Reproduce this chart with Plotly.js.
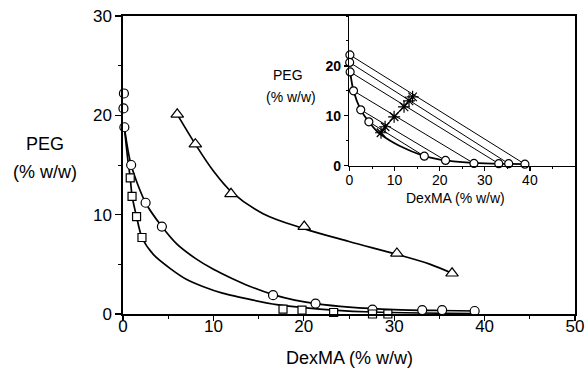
<!DOCTYPE html>
<html>
<head>
<meta charset="utf-8">
<script src="https://cdn.plot.ly/plotly-3.0.1.min.js"></script>
<style>html,body{margin:0;padding:0;background:#fff;}#chart{width:586px;height:369px;}</style>
</head>
<body>
<div id="chart"></div>
<script>
// ---- Data ----
// Binodal (circles): DexMA % w/w, PEG % w/w
const circleX = [0.1, 0.05, 0.15, 0.9, 2.5, 4.3, 16.6, 21.3, 27.6, 33.1, 35.3, 38.9];
const circleY = [22.2, 20.7, 18.8, 15.0, 11.2, 8.8, 1.9, 1.05, 0.45, 0.4, 0.4, 0.3];
// Binodal (squares)
const squareX = [0.8, 1.0, 1.5, 2.1, 17.7, 19.8, 23.3, 27.6, 29.3];
const squareY = [13.7, 11.85, 9.8, 7.7, 0.5, 0.4, 0.15, 0.0, 0.0];
// Binodal (triangles)
const triX = [6.0, 8.0, 11.95, 20.05, 30.3, 36.4];
const triY = [20.1, 17.1, 12.1, 8.8, 6.1, 4.1];
// Fitted curves
const circleFitX = [0.15, 0.9, 2.5, 4.3, 6, 8, 10, 12, 14, 16.6, 19, 21.3, 25, 30, 35, 39];
const circleFitY = [18.8, 15.0, 11.2, 8.8, 7.0, 5.6, 4.5, 3.6, 2.8, 1.95, 1.4, 1.05, 0.7, 0.45, 0.35, 0.3];
const squareFitX = [0.15, 0.5, 0.8, 1.0, 1.5, 2.1, 3.35, 5.2, 7, 8.9, 11, 14.4, 17, 20, 23.3, 27.6, 33, 39];
const squareFitY = [18.8, 15.8, 13.7, 11.9, 9.8, 7.7, 6.0, 4.6, 3.5, 2.75, 2.1, 1.4, 0.95, 0.65, 0.4, 0.2, 0.1, 0.05];
const triFitX = [6.0, 8.0, 10.0, 12.0, 15.5, 20.0, 25.0, 30.3, 34.0, 36.4];
const triFitY = [20.1, 17.1, 14.4, 12.3, 10.1, 8.6, 7.3, 6.0, 5.0, 4.1];
// Inset: tie lines join circle i (PEG-rich) with circle j (DexMA-rich)
const tieTop = [0, 1, 2, 3, 4, 5];
const tieBottom = [11, 10, 9, 8, 7, 6];
// Inset: overall compositions (asterisks)
const mixX = [14.0, 13.2, 12.1, 9.9, 7.9, 7.0];
const mixY = [13.8, 13.0, 11.8, 9.8, 7.8, 6.6];
// Tick labels
const mainXTicks = [0, 10, 20, 30, 40, 50];
const mainYTicks = [0, 10, 20, 30];
const insetXTicks = [0, 10, 20, 30, 40];
const insetYTicks = [0, 10, 20];

const FONT = 'Liberation Sans, Arial, Helvetica, sans-serif';

// Build tie-line trace from the circle arrays
const tieX = [], tieY = [];
tieTop.forEach((t, k) => {
  const b = tieBottom[k];
  tieX.push(circleX[t], circleX[b], null);
  tieY.push(circleY[t], circleY[b], null);
});

const openMarker = (symbol, size) => ({symbol: symbol, size: size, color: 'white', line: {color: 'black', width: 1.2}});

const traces = [
  {x: triFitX, y: triFitY, mode: 'lines', line: {color: 'black', width: 1.7, shape: 'spline', smoothing: 1}, cliponaxis: false, hoverinfo: 'skip'},
  {x: circleFitX, y: circleFitY, mode: 'lines', line: {color: 'black', width: 1.7, shape: 'spline', smoothing: 0.8}, cliponaxis: false, hoverinfo: 'skip'},
  {x: squareFitX, y: squareFitY, mode: 'lines', line: {color: 'black', width: 1.7, shape: 'spline', smoothing: 0.8}, cliponaxis: false, hoverinfo: 'skip'},
  {x: triX, y: triY, mode: 'markers', marker: openMarker('triangle-up', 11), cliponaxis: false},
  {x: circleX, y: circleY, mode: 'markers', marker: openMarker('circle', 9), cliponaxis: false},
  {x: squareX, y: squareY, mode: 'markers', marker: openMarker('square', 8), cliponaxis: false},
  // inset
  {x: tieX, y: tieY, xaxis: 'x2', yaxis: 'y2', mode: 'lines', line: {color: 'black', width: 1}, connectgaps: false, cliponaxis: false},
  {x: circleFitX, y: circleFitY, xaxis: 'x2', yaxis: 'y2', mode: 'lines', line: {color: 'black', width: 1.8, shape: 'spline', smoothing: 0.8}, cliponaxis: false},
  {x: mixX, y: mixY, xaxis: 'x2', yaxis: 'y2', mode: 'lines+markers', line: {color: 'black', width: 1.2},
   marker: {symbol: 'asterisk-open', size: 10, color: 'black', line: {color: 'black', width: 1.2}}, cliponaxis: false},
  {x: circleX, y: circleY, xaxis: 'x2', yaxis: 'y2', mode: 'markers', marker: openMarker('circle', 8), cliponaxis: false}
];

const axisBase = {
  showline: true, mirror: true, linecolor: 'black', linewidth: 1.6,
  ticks: 'outside', tickcolor: 'black', tickwidth: 1.4,
  showgrid: false, zeroline: false, fixedrange: true
};

const layout = {
  width: 586, height: 369,
  margin: {l: 123, r: 11, t: 16, b: 55},
  paper_bgcolor: 'white', plot_bgcolor: 'white',
  showlegend: false,
  font: {family: FONT, color: 'black'},
  xaxis: Object.assign({}, axisBase, {
    domain: [0, 1], range: [0, 50], tickvals: mainXTicks, ticklen: 5, ticklabelstandoff: -9,
    minor: {dtick: 5, tick0: 0, ticks: 'outside', ticklen: 3, tickcolor: 'black', tickwidth: 1},
    tickfont: {family: FONT, size: 17, color: 'black'}
  }),
  yaxis: Object.assign({}, axisBase, {
    domain: [0, 1], range: [0, 30], tickvals: mainYTicks, ticklen: 6,
    minor: {dtick: 5, tick0: 0, ticks: 'outside', ticklen: 3, tickcolor: 'black', tickwidth: 1},
    tickfont: {family: FONT, size: 17, color: 'black'}
  }),
  xaxis2: Object.assign({}, axisBase, {
    domain: [0.501, 1], anchor: 'y2', range: [0, 50], tickvals: insetXTicks, ticklen: 4, ticklabelstandoff: -3,
    minor: {dtick: 5, tick0: 0, ticks: 'outside', ticklen: 2, tickcolor: 'black', tickwidth: 1},
    tickfont: {family: FONT, size: 14, color: 'black'}
  }),
  yaxis2: Object.assign({}, axisBase, {
    domain: [0.4977, 1], anchor: 'x2', range: [0, 30], tickvals: insetYTicks, ticklen: 4,
    minor: {dtick: 5, tick0: 0, ticks: 'outside', ticklen: 2, tickcolor: 'black', tickwidth: 1},
    tickfont: {family: FONT, size: 14, color: 'black', weight: 'bold'}
  }),
  annotations: [
    {text: 'DexMA (% w/w)', xref: 'paper', yref: 'paper', x: 0.5, y: -0.148, xanchor: 'center', yanchor: 'middle', showarrow: false, font: {family: FONT, size: 18, color: 'black'}},
    {text: 'PEG', xref: 'paper', yref: 'paper', x: -0.1726, y: 0.5705, xanchor: 'center', yanchor: 'middle', showarrow: false, font: {family: FONT, size: 18, color: 'black'}},
    {text: '(% w/w)', xref: 'paper', yref: 'paper', x: -0.1726, y: 0.4775, xanchor: 'center', yanchor: 'middle', showarrow: false, font: {family: FONT, size: 18, color: 'black'}},
    {text: 'DexMA (% w/w)', xref: 'paper', yref: 'paper', x: 0.7367, y: 0.39, xanchor: 'center', yanchor: 'middle', showarrow: false, font: {family: FONT, size: 14, color: 'black'}},
    {text: 'PEG', xref: 'paper', yref: 'paper', x: 0.365, y: 0.802, xanchor: 'center', yanchor: 'middle', showarrow: false, font: {family: FONT, size: 14, color: 'black'}},
    {text: '(% w/w)', xref: 'paper', yref: 'paper', x: 0.3717, y: 0.729, xanchor: 'center', yanchor: 'middle', showarrow: false, font: {family: FONT, size: 14, color: 'black'}}
  ]
};

Plotly.newPlot('chart', traces, layout, {displayModeBar: false, staticPlot: true});
</script>
</body>
</html>
